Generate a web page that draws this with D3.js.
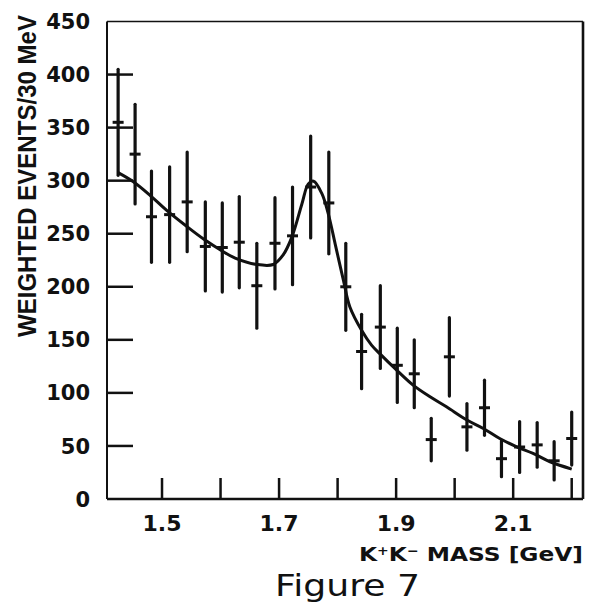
<!DOCTYPE html>
<html>
<head>
<meta charset="utf-8">
<script src="https://cdn.jsdelivr.net/npm/d3@7"></script>
<style>
  body { margin: 0; background: #fff; }
  svg { display: block; }
</style>
</head>
<body>
<div id="chart"></div>
<script>
// K+K- mass spectrum, weighted events per 30 MeV bin
const mass = [1.425, 1.454, 1.482, 1.513, 1.543, 1.574, 1.603, 1.632, 1.662, 1.693,
    1.723, 1.754, 1.785, 1.814, 1.841, 1.873, 1.902, 1.931, 1.960, 1.991,
    2.021, 2.051, 2.080, 2.111, 2.141, 2.170, 2.200];
const events = [355, 325, 266, 268, 280, 238, 237, 242, 201, 241,
    248, 294, 279, 200, 139, 162, 126, 118, 56, 134,
    68, 86, 38, 49, 51, 36, 57];
const errors = [50, 47, 43, 45, 47, 42, 42, 43, 40, 43,
    46, 48, 48, 41, 35, 39, 35, 32, 20, 37,
    22, 26, 17, 24, 21, 18, 25];

// fitted curve
const fit_mass = [1.425, 1.451, 1.480, 1.508, 1.542, 1.571, 1.602, 1.625, 1.662, 1.690, 1.707,
    1.722, 1.739, 1.750, 1.759, 1.773, 1.784, 1.796, 1.810, 1.821, 1.841,
    1.858, 1.872, 1.901, 1.929, 1.958, 1.986, 2.021, 2.049, 2.077, 2.106,
    2.134, 2.163, 2.200];
const fit_values = [307.6, 299, 286, 272, 257, 245, 234, 227, 221, 221, 230,
    247, 278, 297, 299.5, 288, 269, 240, 206, 181, 159,
    145, 137, 121.4, 107.3, 96.3, 86.9, 74.4, 66.5, 57, 49.2,
    43, 35.1, 28.2];

const x_ticks = [1.5, 1.6, 1.7, 1.8, 1.9, 2.0, 2.1, 2.2];
const x_labels = [1.5, 1.7, 1.9, 2.1];
const y_ticks = [50, 100, 150, 200, 250, 300, 350, 400];
const y_labels = [0, 50, 100, 150, 200, 250, 300, 350, 400, 450];

const margin = { top: 21.5, right: 14, bottom: 104, left: 107 };
const W = 597, H = 603;
const width = W - margin.left - margin.right;
const height = H - margin.top - margin.bottom;
const ink = "#111";

const svg = d3.select("#chart")
    .append("svg")
    .attr("width", W)
    .attr("height", H)
    .append("g")
    .attr("transform", `translate(${margin.left},${margin.top})`);

const x = d3.scaleLinear()
    .domain([1.406, 2.2193])
    .range([0, width]);

const y = d3.scaleLinear()
    .domain([0, 450])
    .range([height, 0]);

// frame
svg.append("line").attr("x1", 0).attr("x2", width).attr("y1", 0).attr("y2", 0)
    .attr("stroke", ink).attr("stroke-width", 1.6);
svg.append("line").attr("x1", 0).attr("x2", width).attr("y1", height).attr("y2", height)
    .attr("stroke", ink).attr("stroke-width", 2.6);
svg.append("line").attr("x1", 0).attr("x2", 0).attr("y1", 0).attr("y2", height)
    .attr("stroke", ink).attr("stroke-width", 2);
svg.append("line").attr("x1", width).attr("x2", width).attr("y1", 0).attr("y2", height)
    .attr("stroke", ink).attr("stroke-width", 2.6);

// inward ticks
svg.selectAll(".ytick")
    .data(y_ticks)
    .enter().append("line")
    .attr("x1", 0)
    .attr("x2", 26)
    .attr("y1", d => y(d))
    .attr("y2", d => y(d))
    .attr("stroke", ink)
    .attr("stroke-width", 2.5);

svg.selectAll(".xtick")
    .data(x_ticks)
    .enter().append("line")
    .attr("x1", d => x(d))
    .attr("x2", d => x(d))
    .attr("y1", height)
    .attr("y2", height - 21)
    .attr("stroke", ink)
    .attr("stroke-width", 2.5);

// tick labels
svg.selectAll(".ylabel")
    .data(y_labels)
    .enter().append("text")
    .attr("x", -17)
    .attr("y", d => y(d))
    .attr("dy", "0.36em")
    .attr("text-anchor", "end")
    .style("font-family", "DejaVu Sans, sans-serif")
    .style("font-weight", "bold")
    .style("font-size", "21px")
    .style("fill", ink)
    .text(d => d);

svg.selectAll(".xlabel")
    .data(x_labels)
    .enter().append("text")
    .attr("x", d => x(d))
    .attr("y", height + 32)
    .attr("text-anchor", "middle")
    .style("font-family", "DejaVu Sans, sans-serif")
    .style("font-weight", "bold")
    .style("font-size", "22px")
    .style("fill", ink)
    .text(d => d3.format(".1f")(d));

// error bars
svg.selectAll(".err")
    .data(mass)
    .enter().append("line")
    .attr("x1", d => x(d))
    .attr("x2", d => x(d))
    .attr("y1", (d, i) => y(events[i] + errors[i]))
    .attr("y2", (d, i) => y(events[i] - errors[i]))
    .attr("stroke", ink)
    .attr("stroke-width", 3.2)
    .attr("stroke-linecap", "round");

svg.selectAll(".cross")
    .data(mass)
    .enter().append("line")
    .attr("x1", d => x(d) - 5.5)
    .attr("x2", d => x(d) + 5.5)
    .attr("y1", (d, i) => y(events[i]))
    .attr("y2", (d, i) => y(events[i]))
    .attr("stroke", ink)
    .attr("stroke-width", 3);

// fit curve
const line = d3.line()
    .x((d, i) => x(fit_mass[i]))
    .y(d => y(d))
    .curve(d3.curveCatmullRom);

svg.append("path")
    .datum(fit_values)
    .attr("fill", "none")
    .attr("stroke", ink)
    .attr("stroke-width", 3)
    .attr("stroke-linejoin", "round")
    .attr("d", line);

// axis titles
svg.append("text")
    .attr("transform", `translate(${36 - margin.left},${337 - margin.top}) rotate(-90)`)
    .attr("textLength", 322)
    .attr("lengthAdjust", "spacingAndGlyphs")
    .style("font-family", "Liberation Sans, Arial, sans-serif")
    .style("font-weight", "bold")
    .style("font-size", "25px")
    .style("fill", ink)
    .text("WEIGHTED  EVENTS/30 MeV");

const xt = svg.append("text")
    .attr("x", 359 - margin.left)
    .attr("y", 561 - margin.top)
    .attr("textLength", 224)
    .attr("lengthAdjust", "spacingAndGlyphs")
    .style("font-family", "DejaVu Sans, sans-serif")
    .style("font-weight", "bold")
    .style("font-size", "20px")
    .style("fill", ink);
xt.append("tspan").text("K");
xt.append("tspan").attr("dy", -6).style("font-size", "12px").text("+");
xt.append("tspan").attr("dy", 6).text("K");
xt.append("tspan").attr("dy", -6).style("font-size", "12px").text("\u2212");
xt.append("tspan").attr("dy", 6).text("  MASS  [GeV]");

svg.append("text")
    .attr("x", 275 - margin.left)
    .attr("y", 596 - margin.top)
    .attr("textLength", 145)
    .attr("lengthAdjust", "spacingAndGlyphs")
    .style("font-family", "DejaVu Sans, sans-serif")
    .style("font-size", "30px")
    .style("fill", ink)
    .text("Figure 7");
</script>
</body>
</html>
